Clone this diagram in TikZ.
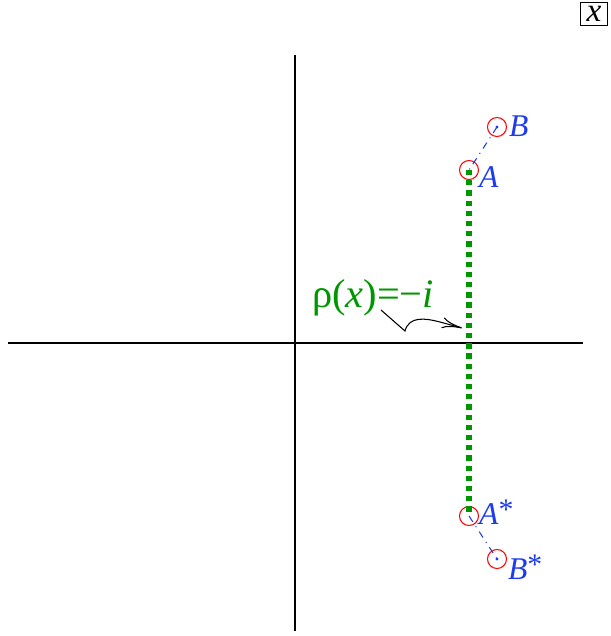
\documentclass[tikz,border=0pt]{standalone}
\usepackage{fontspec}
\setmainfont{Liberation Serif}
\usetikzlibrary{arrows.meta,positioning}
\definecolor{ptblue}{RGB}{30,60,235}
\definecolor{cutgreen}{RGB}{0,150,0}
\newcommand{\conjstar}{{\fontsize{17}{17}\selectfont\raisebox{3pt}{*}}}
\tikzset{
  axis/.style={line width=0.8pt},
  pole/.style={circle,draw=red,line width=0.6pt,minimum size=0.38cm,inner sep=0pt},
  ptlabel/.style={text=ptblue,font=\fontsize{18}{20}\selectfont,anchor=west,inner sep=1pt},
  pairlink/.style={ptblue,line width=0.6pt,dash pattern=on 4pt off 3pt on 0.6pt off 3pt},
  cut/.style={cutgreen,line width=3pt,dash pattern=on 3pt off 2.8pt},
  pointer/.style={-{To[length=4mm,width=2.2mm]},line width=0.6pt}
}
\begin{document}
\begin{tikzpicture}[x=0.02cm,y=-0.02cm]
  \useasboundingbox (0,0) rectangle (611,636);
  % axes
  \coordinate (west) at (8,343);  \coordinate (east) at (583,343);
  \coordinate (north) at (295,55); \coordinate (south) at (295,631);
  \draw[axis] (west)--(east);
  \draw[axis] (north)--(south);
  \node[draw,line width=0.6pt,inner sep=0pt,minimum width=0.53cm,minimum height=0.47cm,
        font=\fontsize{19}{20}\selectfont] (xbox) at (594,14) {\textit{x}};

  % branch points and their mirror images
  \foreach \n/\x/\y in {A/469/170,B/497/127,As/469/516,Bs/497/559}
    \node[pole] (\n) at (\x,\y) {};
  \fill[ptblue] (B) circle (0.9pt);
  \fill[ptblue] (Bs) circle (0.9pt);
  \draw[cut] (A.center)--(As.center);
  \draw[pairlink] (B.center)--(A.center);
  \draw[pairlink] (As.center)--(Bs.center);
  \node[ptlabel] (labA) at (477,177) {\textit{A}};
  \node[ptlabel] (labB) at (507,126) {\textit{B}};
  \node[ptlabel] (labAs) at (477,512) {\textit{A}\conjstar};
  \node[ptlabel] (labBs) at (506,567) {\textit{B}\conjstar};

  % value on the cut
  \node[text=cutgreen,font=\fontsize{23}{26}\selectfont,inner sep=0pt] (rho) at (373,298)
    {ρ(\textit{x})=−\textit{i}};
  \coordinate (tail) at (381,310);
  \coordinate (kink) at (405,331);
  \coordinate (tip) at (462,328);
  \draw[pointer] (tail)--(kink) .. controls (409,316) and (425,318) .. (440,322)--(tip);
\end{tikzpicture}
\end{document}
